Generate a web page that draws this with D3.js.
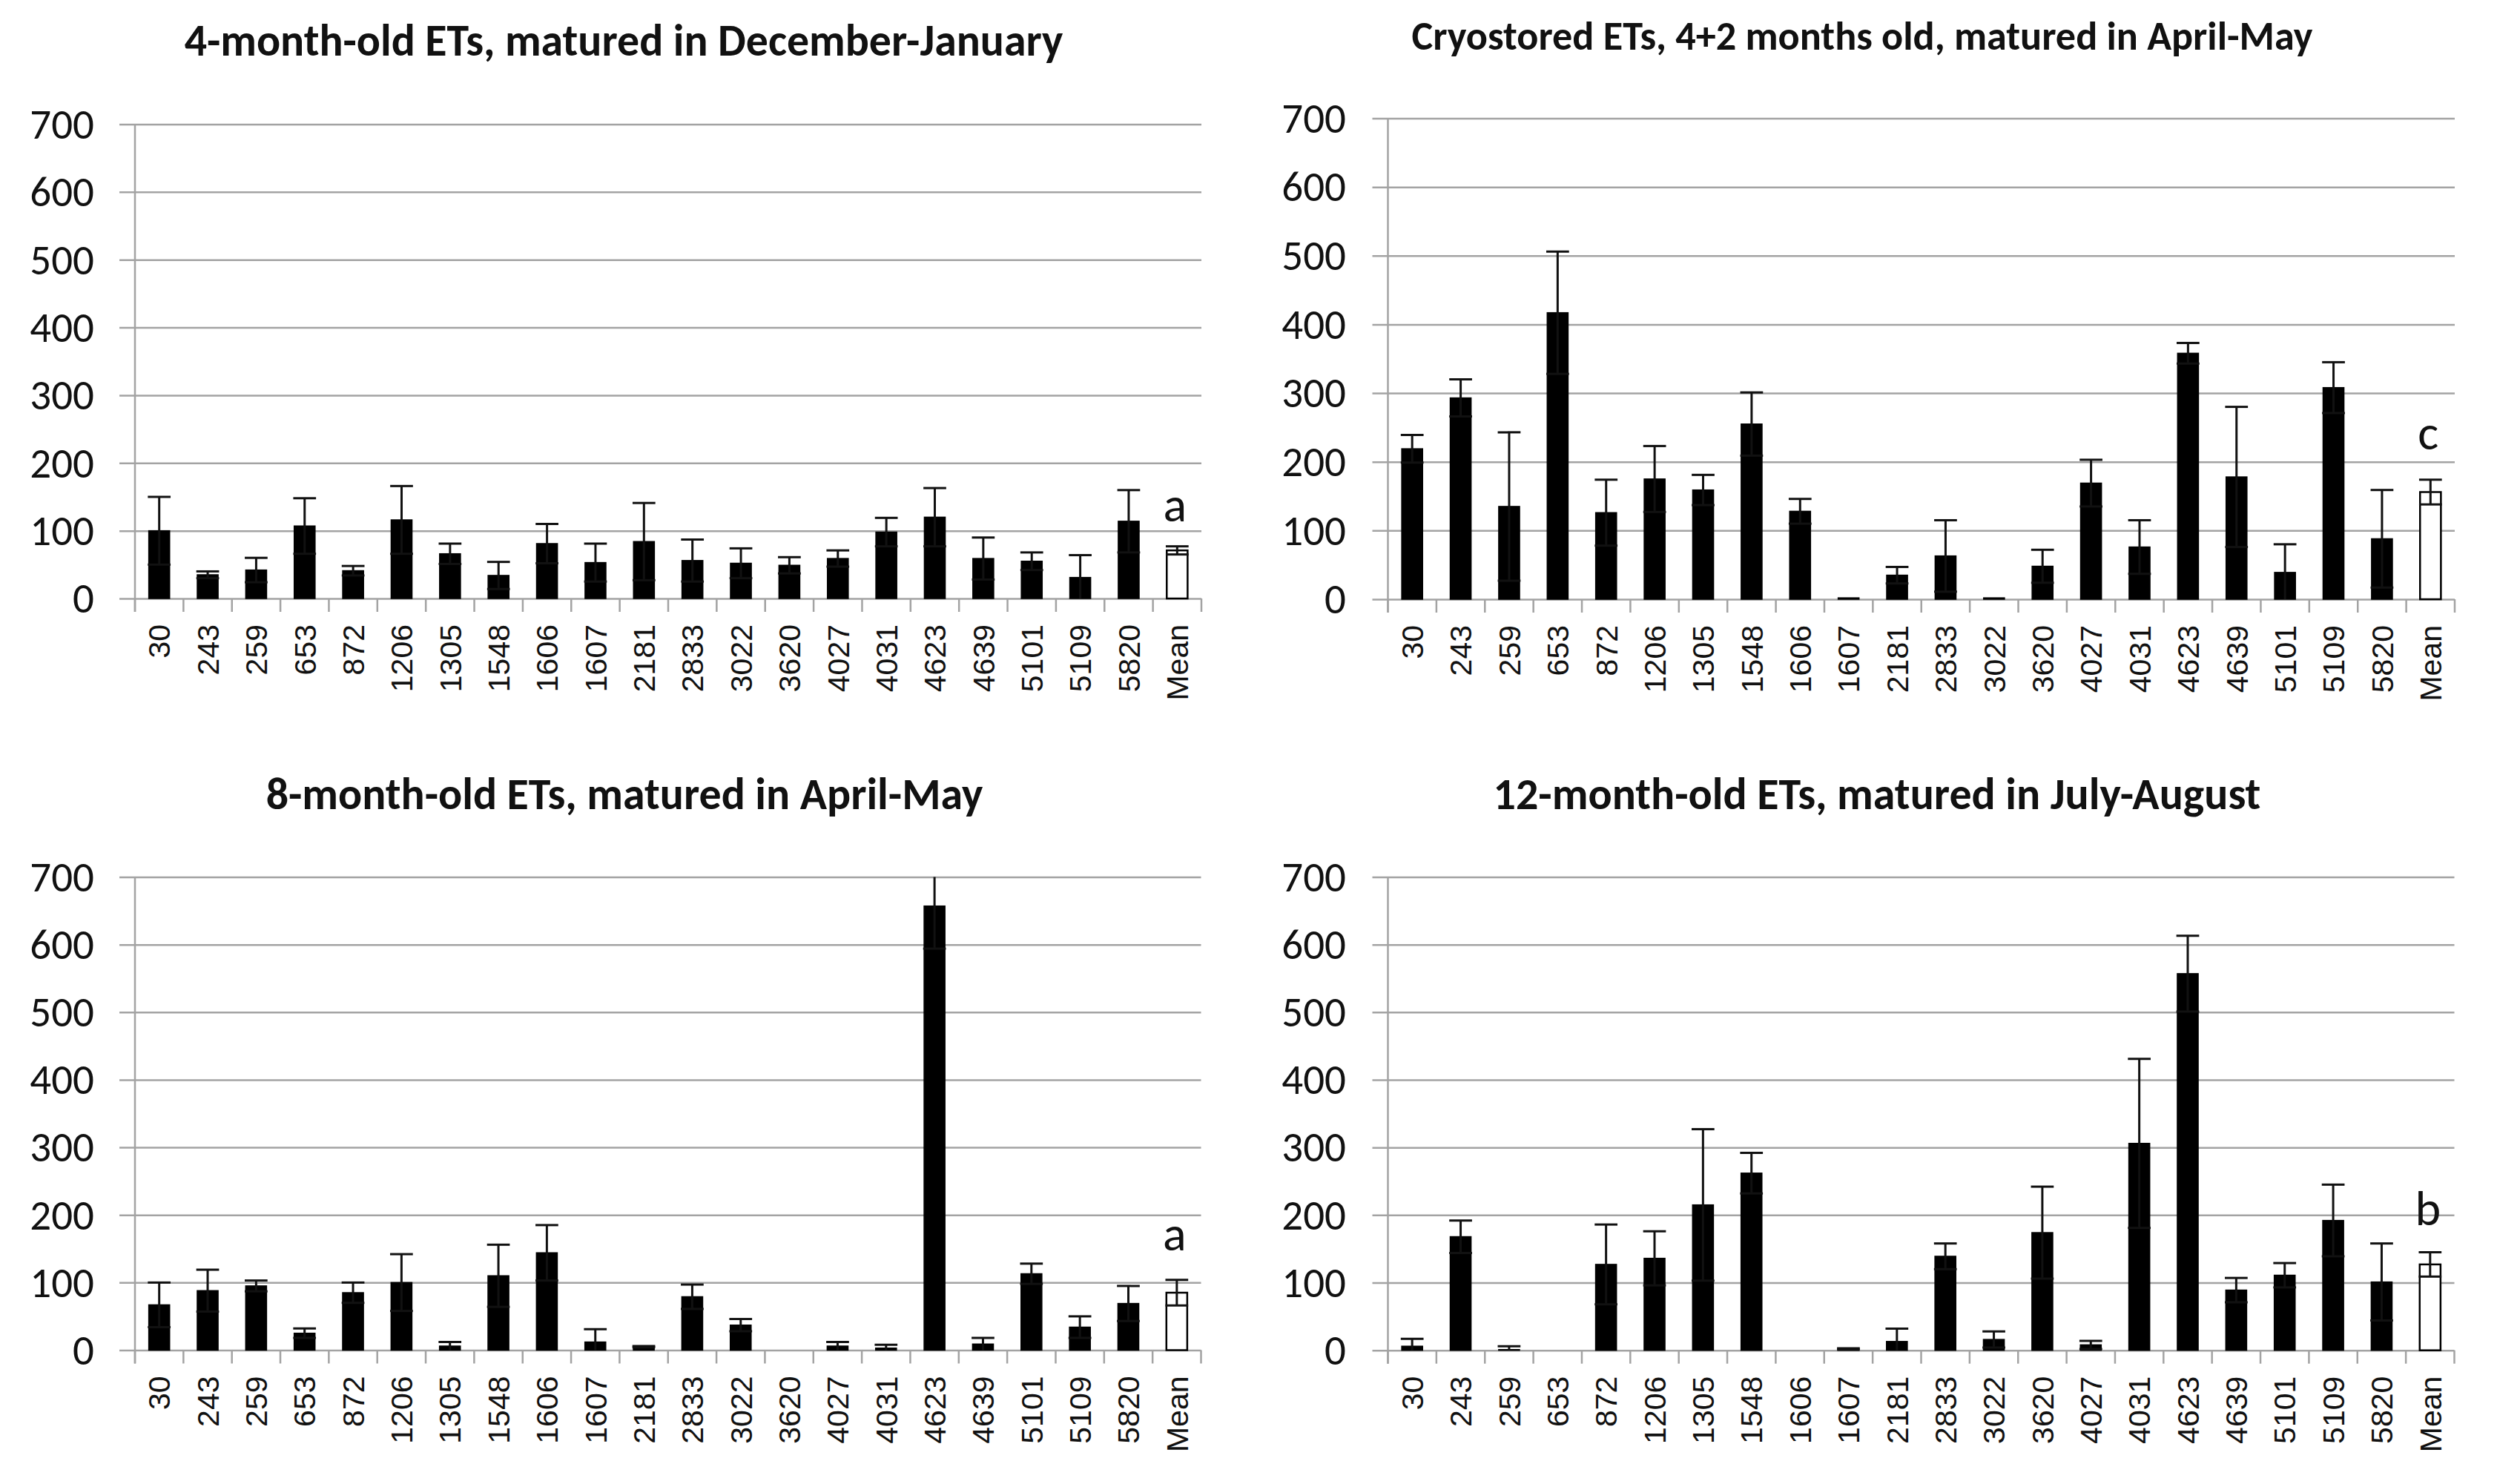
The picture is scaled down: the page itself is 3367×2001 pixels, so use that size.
<!DOCTYPE html>
<html>
<head>
<meta charset="utf-8">
<script src="https://cdnjs.cloudflare.com/ajax/libs/d3/7.8.5/d3.min.js"></script>
<style>
  body { margin: 0; background: #fff; }
  svg { display: block; }
</style>
</head>
<body>
<div id="chart"></div>
<script>
// ET lines on x axis, last one is the mean of all lines
var categories = ["30", "243", "259", "653", "872", "1206", "1305", "1548", "1606", "1607", "2181",
    "2833", "3022", "3620", "4027", "4031", "4623", "4639", "5101", "5109", "5820", "Mean"];
var yTicks = [0, 100, 200, 300, 400, 500, 600, 700];

var titles = ["4-month-old ETs, matured in December-January",
    "Cryostored ETs, 4+2 months old, matured in April-May",
    "8-month-old ETs, matured in April-May",
    "12-month-old ETs, matured in July-August"];

var values4m = [100, 35, 42, 107, 41, 116, 66, 34, 81, 53, 84, 56, 52, 49, 59, 98, 120, 59, 55, 31, 114, 71];
var errors4m = [50, 5, 18, 41, 7, 50, 15, 20, 29, 28, 57, 31, 22, 12, 12, 21, 43, 31, 13, 33, 46, 6];

var valuesCryo = [219, 293, 135, 417, 126, 175, 159, 255, 128, 2, 35, 63, 2, 48, 169, 76, 358, 178, 39, 308, 88, 156];
var errorsCryo = [20, 27, 108, 89, 48, 48, 22, 46, 18, 0, 12, 52, 0, 24, 34, 39, 15, 102, 41, 37, 71, 18];

var values8m = [67, 88, 95, 25, 85, 100, 6, 110, 144, 12, 5, 79, 37, 0, 6, 3, 657, 9, 113, 34, 69, 85];
var errors8m = [33, 31, 8, 7, 15, 42, 6, 46, 41, 19, 1, 18, 9, 0, 6, 5, 63, 9, 15, 16, 26, 19];

var values12m = [6, 168, 1, 0, 127, 136, 215, 262, 0, 2, 13, 139, 16, 174, 8, 306, 557, 89, 111, 192, 101, 127];
var errors12m = [11, 24, 5, 0, 59, 40, 112, 30, 0, 1, 19, 19, 12, 68, 6, 125, 56, 18, 18, 53, 57, 18];

// significance letters over the mean bar, and the value where they sit
var meanLetters = ["a", "c", "a", "b"];
var letterLevels = [114, 218, 148, 185];

var seriesValues = [values4m, valuesCryo, values8m, values12m];
var seriesErrors = [errors4m, errorsCryo, errors8m, errors12m];

// pixel layout of the four panels
var panels = [
    {left: 182, right: 1620, top: 167.5, bottom: 807, labelX: 127, titleX: 841, titleY: 75, titleW: 1185},
    {left: 1871.5, right: 3310, top: 159.5, bottom: 808, labelX: 1815, titleX: 2511, titleY: 67, titleW: 1215},
    {left: 182, right: 1619.5, top: 1182.5, bottom: 1820.5, labelX: 127, titleX: 842, titleY: 1091, titleW: 967},
    {left: 1871.5, right: 3309.5, top: 1182.5, bottom: 1820.7, labelX: 1815, titleX: 2531, titleY: 1091, titleW: 1035}
];

var gridColor = "#a3a3a3";

var svg = d3.select("#chart").append("svg")
    .attr("width", 3367)
    .attr("height", 2001);

svg.append("rect").attr("width", 3367).attr("height", 2001).attr("fill", "#fff");

function drawPanel(i) {
    var p = panels[i];
    var vals = seriesValues[i];
    var errs = seriesErrors[i];
    var rows = categories.map(function(c, k) { return {cat: c, v: vals[k], e: errs[k]}; });

    var x = d3.scaleBand().domain(categories).range([p.left, p.right]).paddingInner(0).paddingOuter(0);
    var y = d3.scaleLinear().domain([0, 700]).range([p.bottom, p.top]);
    var bw = x.bandwidth();
    var g = svg.append("g");

    var clipId = "clip" + i;
    svg.append("clipPath").attr("id", clipId)
        .append("rect")
        .attr("x", p.left - 40).attr("y", p.top)
        .attr("width", p.right - p.left + 80).attr("height", p.bottom - p.top + 40);

    // gridlines + tick labels through a d3 axis
    var yAxis = d3.axisLeft(y).tickValues(yTicks).tickSize(-(p.right - p.left + 21)).tickSizeOuter(0).tickPadding(0);
    var ya = g.append("g")
        .attr("transform", "translate(" + (p.left - 21) + ",0)")
        .call(yAxis);
    ya.select(".domain").remove();
    ya.selectAll(".tick line")
        .attr("x1", 0)
        .attr("x2", p.right - p.left + 21)
        .attr("stroke", gridColor)
        .attr("stroke-width", 2.5);
    ya.selectAll(".tick text")
        .attr("x", p.labelX - (p.left - 21))
        .attr("dy", "0.33em")
        .attr("font-family", "Carlito, Lato, sans-serif")
        .attr("font-size", 57)
        .attr("fill", "#111")
        .attr("text-anchor", "end");

    // vertical axis line
    g.append("line")
        .attr("x1", p.left).attr("x2", p.left)
        .attr("y1", p.top).attr("y2", p.bottom + 18)
        .attr("stroke", gridColor).attr("stroke-width", 2.5);

    // category ticks
    var bounds = categories.map(function(c) { return x(c); }).concat([p.right]);
    g.append("g").selectAll("line")
        .data(bounds)
        .enter()
        .append("line")
        .attr("x1", function(d) { return d; })
        .attr("x2", function(d) { return d; })
        .attr("y1", p.bottom)
        .attr("y2", p.bottom + 18)
        .attr("stroke", gridColor)
        .attr("stroke-width", 2.5);

    var plot = g.append("g").attr("clip-path", "url(#" + clipId + ")");

    var barW = bw * 0.43;
    var capW = bw * 0.47;

    plot.selectAll("rect.bar")
        .data(rows)
        .enter()
        .append("rect")
        .classed("bar", true)
        .attr("x", function(d) { return x(d.cat) + bw / 2 - barW / 2; })
        .attr("y", function(d) { return y(d.v); })
        .attr("width", barW)
        .attr("height", function(d) { return y(0) - y(d.v); })
        .attr("fill", function(d) { return d.cat == "Mean" ? "#fff" : "#000"; })
        .attr("stroke", function(d) { return d.v > 0 ? "#000" : "none"; })
        .attr("stroke-width", function(d) { return d.cat == "Mean" ? 2.5 : 1.5; });

    // error bars (symmetric, lower end stops at the axis)
    plot.selectAll("g.err")
        .data(rows.filter(function(d) { return d.e > 0; }))
        .enter()
        .append("g")
        .classed("err", true)
        .each(function(d) {
            var cx = x(d.cat) + bw / 2;
            var hi = d.v + d.e, lo = Math.max(0, d.v - d.e);
            var grp = d3.select(this);
            grp.append("line")
                .attr("x1", cx).attr("x2", cx)
                .attr("y1", y(lo)).attr("y2", y(hi))
                .attr("stroke", "#111").attr("stroke-width", 3);
            grp.append("line")
                .attr("x1", cx - capW / 2).attr("x2", cx + capW / 2)
                .attr("y1", y(hi)).attr("y2", y(hi))
                .attr("stroke", "#111").attr("stroke-width", 3);
            if (d.v - d.e > 0) {
                grp.append("line")
                    .attr("x1", cx - capW / 2).attr("x2", cx + capW / 2)
                    .attr("y1", y(lo)).attr("y2", y(lo))
                    .attr("stroke", "#111").attr("stroke-width", 3);
            }
        });

    // rotated category labels
    g.append("g").selectAll("text")
        .data(categories)
        .enter()
        .append("text")
        .attr("transform", function(d) {
            return "translate(" + (x(d) + bw / 2) + "," + (p.bottom + 35) + ") rotate(-90)";
        })
        .attr("dy", "0.36em")
        .attr("text-anchor", "end")
        .attr("font-family", "'Liberation Sans', Arial, sans-serif")
        .attr("font-size", 41)
        .attr("fill", "#111")
        .text(function(d) { return d; });

    // letter over the mean
    g.append("text")
        .attr("x", x("Mean") + bw / 2 - 3)
        .attr("y", y(letterLevels[i]))
        .attr("text-anchor", "middle")
        .attr("font-family", "Carlito, Lato, sans-serif")
        .attr("font-size", 66)
        .attr("fill", "#111")
        .text(meanLetters[i]);

    // title, sized to the width it has in the picture
    var t = g.append("text")
        .attr("x", p.titleX)
        .attr("y", p.titleY)
        .attr("text-anchor", "middle")
        .attr("font-family", "Carlito, Lato, sans-serif")
        .attr("font-weight", "bold")
        .attr("font-size", 50)
        .attr("fill", "#111")
        .text(titles[i]);
    var w = t.node().getComputedTextLength();
    if (w > 0) t.attr("font-size", 50 * p.titleW / w);
}

for (var i = 0; i < panels.length; i++) {
    drawPanel(i);
}
</script>
</body>
</html>
